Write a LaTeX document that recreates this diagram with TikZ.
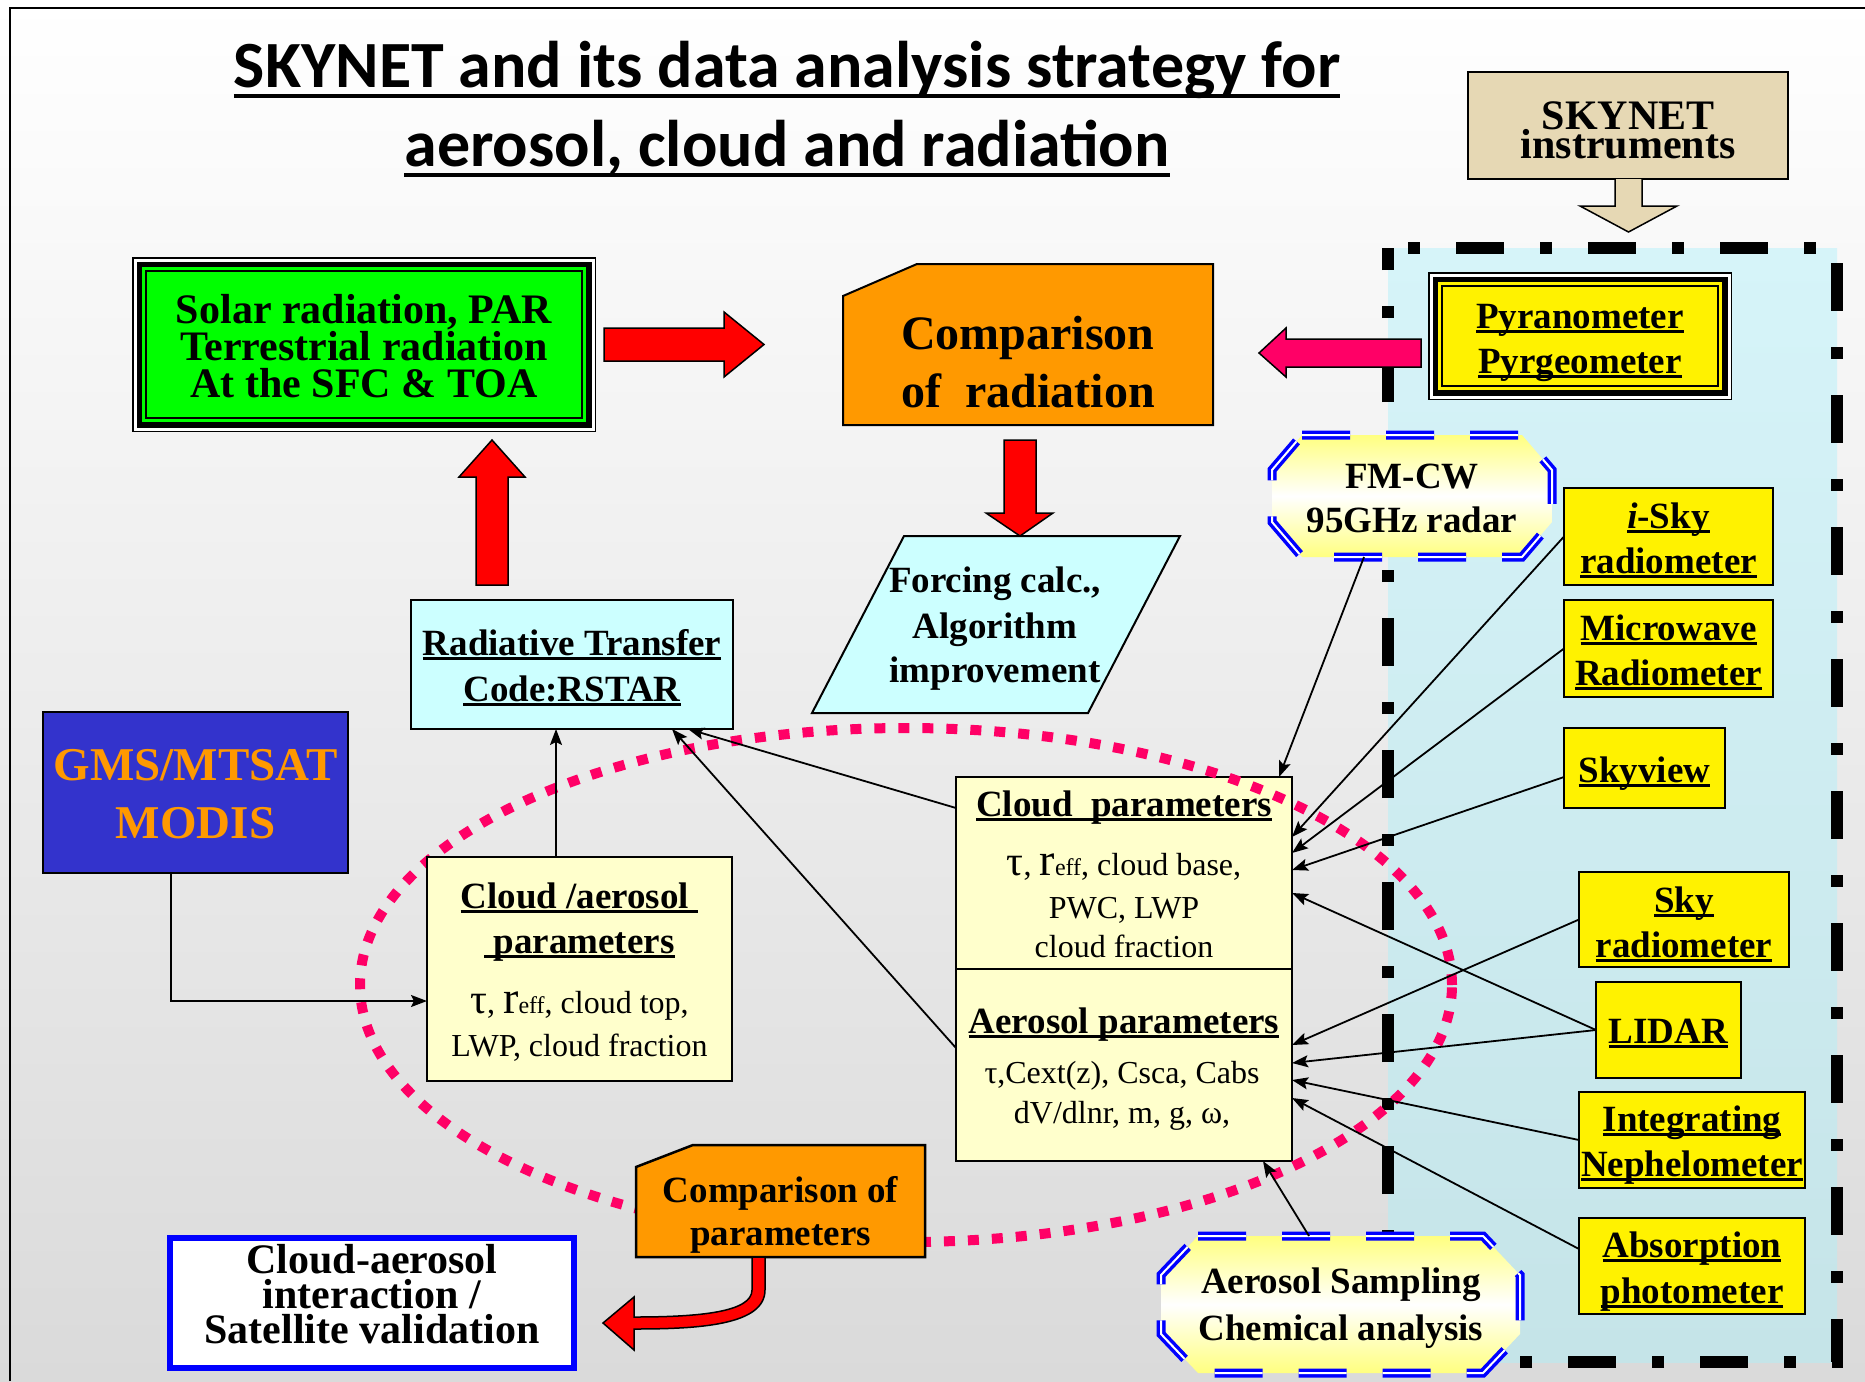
\documentclass[tikz,border=0pt]{standalone}
\usepackage{fontspec}
\setmainfont{Liberation Serif}
\newfontfamily\titlefont{Carlito}
\usetikzlibrary{calc,arrows.meta}
\definecolor{bggray}{RGB}{218,218,218}
\definecolor{skytan}{RGB}{230,216,180}
\definecolor{cyanA}{RGB}{214,244,249}
\definecolor{cyanB}{RGB}{197,228,232}
\definecolor{boxcyan}{RGB}{204,255,255}
\definecolor{lightyel}{RGB}{255,255,204}
\definecolor{orng}{RGB}{255,153,0}
\definecolor{pinkred}{RGB}{255,0,102}
\definecolor{gmsblue}{RGB}{51,51,204}
\definecolor{pureblue}{RGB}{0,0,255}
\definecolor{brightgreen}{RGB}{0,255,0}
\newsavebox\ulbox
\newcommand\ulx[1]{\sbox\ulbox{#1}\rlap{\rule[-0.13em]{\wd\ulbox}{0.065em}}\usebox\ulbox}
\newcommand\ult[1]{\sbox\ulbox{#1}\rlap{\rule[-0.16em]{\wd\ulbox}{0.05em}}\usebox\ulbox}
\newcommand\fs[1]{\fontsize{#1}{#1}\selectfont}
\newcommand\tripleframe[2]{%
 \fill[black] (#1.south west) rectangle (#1.north east);
 \fill[white] ($(#1.south west)+(1.5,-1.5)$) rectangle ($(#1.north east)+(-1.5,1.5)$);
 \fill[black] ($(#1.south west)+(4.5,-4.5)$) rectangle ($(#1.north east)+(-4.5,4.5)$);
 \fill[#2] ($(#1.south west)+(10,-10)$) rectangle ($(#1.north east)+(-10,10)$);
 \fill[black] ($(#1.south west)+(13,-13)$) rectangle ($(#1.north east)+(-13,13)$);
 \fill[#2] ($(#1.south west)+(15,-15)$) rectangle ($(#1.north east)+(-15,15)$);}
\newcommand\octa[3]{%
 \draw[top color=yellow!50,bottom color=yellow!50,middle color=white,draw=pureblue,double=white,double distance=2pt,line width=3.5pt,dash pattern=on 48pt off 36pt]
 ($(#1.north west)+(#2,0)$) -- ($(#1.north east)+(-#2,0)$) -- ($(#1.north east)+(0,#3)$) -- ($(#1.south east)+(0,-#3)$) -- ($(#1.south east)+(-#2,0)$) -- ($(#1.south west)+(#2,0)$) -- ($(#1.south west)+(0,-#3)$) -- ($(#1.north west)+(0,#3)$) -- cycle;}
\begin{document}
\begin{tikzpicture}[x=1pt,y=-1pt,
  lbl/.style={anchor=base,inner sep=0pt,outer sep=0pt},
  b37/.style={lbl,font=\bfseries\fs{37}},
  b42/.style={lbl,font=\bfseries\fs{42}},
  r32/.style={lbl,font=\fs{32}},
  bx/.style={rectangle,inner sep=0pt,outer sep=0pt},
  ibox/.style={bx,fill=yellow,draw=black,line width=2.5pt},
  pbox/.style={bx,fill=lightyel,draw=black,line width=2.5pt},
  conn/.style={line width=1.8pt,-{Stealth[length=16pt,width=12pt,inset=3pt]}},
  blockarrow/.style={draw=black,line width=1.5pt,line join=miter}]
\useasboundingbox (0,0) rectangle (1865,1381);
\shade[top color=white,bottom color=bggray] (0,0) rectangle (1865,1381);
\draw[line width=2pt] (10,1381) -- (10,8) -- (1865,8);
% title
\node[lbl,font=\titlefont\bfseries\fs{66}] (title1) at (787,87) {\ult{SKYNET and its data analysis strategy for}};
\node[lbl,font=\titlefont\bfseries\fs{66}] (title2) at (787,166) {\ult{aerosol, cloud and radiation}};
% instrument region
\node[bx,minimum width=449,minimum height=1114] (instr) at (1612.5,805) {};
\shade[top color=cyanA,bottom color=cyanB] (instr.north west) rectangle (instr.south east);
\draw[line width=12pt,dash pattern=on 12pt off 36pt on 48pt off 36pt,dash phase=112pt] (instr.north west) -- (instr.north east) -- (instr.south east) -- (instr.south west) -- cycle;
% SKYNET instruments
\node[bx,fill=skytan,draw=black,line width=2pt,minimum width=320,minimum height=107] (skybox) at (1628,125.5) {};
\node[b42] (sky1) at (1628,129) {SKYNET};
\node[b42] (sky2) at (1628,158) {instruments};
\draw[blockarrow,fill=skytan] (1615,179) -- (1615,206) -- (1580,206) -- (1628.5,232) -- (1677,206) -- (1642,206) -- (1642,179);
% green box
\node[bx,minimum width=464,minimum height=175] (green) at (364,344.5) {};
\tripleframe{green}{brightgreen}
\node[b42] (g1) at (364,323) {Solar radiation, PAR};
\node[b42] (g2) at (364,360) {Terrestrial radiation};
\node[b42] (g3) at (364,397) {At the SFC \& TOA};
% pyranometer
\node[bx,minimum width=304,minimum height=128] (pyr) at (1580,336) {};
\tripleframe{pyr}{yellow}
\node[b37] (p1) at (1580,328) {\ulx{Pyranometer}};
\node[b37] (p2) at (1580,373) {\ulx{Pyrgeometer}};
% comparison of radiation
\node[bx,minimum width=370,minimum height=161] (comp) at (1028,344.5) {};
\draw[fill=orng,line width=2pt] (comp.south west) -- ([yshift=-32pt]comp.north west) -- ([xshift=74pt]comp.north west) -- (comp.north east) -- (comp.south east) -- cycle;
\node[lbl,font=\bfseries\fs{48}] (c1) at (1028,349) {Comparison};
\node[lbl,font=\bfseries\fs{48}] (c2) at (1028,407) {of\ \ radiation};
% forcing
\node[bx,minimum width=368,minimum height=177] (forcing) at (996,624.5) {};
\draw[fill=boxcyan,line width=2pt] ([xshift=92pt]forcing.north west) -- (forcing.north east) -- ([xshift=-92pt]forcing.south east) -- (forcing.south west) -- cycle;
\node[b37] (f1) at (995,592) {Forcing calc.,};
\node[b37] (f2) at (995,638) {Algorithm};
\node[b37] (f3) at (995,682) {improvement};
% radiative transfer
\node[bx,fill=boxcyan,draw=black,line width=2pt,minimum width=322,minimum height=129] (radiative) at (572,664.5) {};
\node[b37] (r1) at (572,655) {\ulx{Radiative Transfer}};
\node[b37] (r2) at (572,701) {\ulx{Code:RSTAR}};
% GMS
\node[bx,fill=gmsblue,draw=black,line width=2.5pt,minimum width=305,minimum height=161] (gms) at (195.5,792.5) {};
\node[lbl,font=\bfseries\fs{47},text=orng] (gm1) at (195.5,780) {GMS/MTSAT};
\node[lbl,font=\bfseries\fs{47},text=orng] (gm2) at (195.5,838) {MODIS};
% cloud / aerosol parameter boxes
\node[pbox,minimum width=336,minimum height=192] (cloudp) at (1124,873) {};
\node[pbox,minimum width=336,minimum height=192] (aerop) at (1124,1065) {};
\node[b37] (cp1) at (1124,816) {\ulx{Cloud\ \ parameters}};
\node[r32] (cp2) at (1124,875) {{\fs{42}τ}, {\fs{46}r}{\fs{24}eff}, cloud base,};
\node[r32] (cp3) at (1124,918) {PWC, LWP};
\node[r32] (cp4) at (1124,957) {cloud fraction};
\node[b37] (ap1) at (1124,1033) {\ulx{Aerosol parameters}};
\node[r32] (ap2) at (1122,1083) {τ,Cext(z), Csca, Cabs};
\node[r32] (ap3) at (1122,1123) {dV/dlnr, m, g, ω,};
% instruments
\node[ibox,minimum width=209,minimum height=97] (isky) at (1668.5,536.5) {};
\node[b37] (is1) at (1668.5,528) {\ulx{\textit{i}-Sky}};
\node[b37] (is2) at (1668.5,573) {\ulx{radiometer}};
\node[ibox,minimum width=209,minimum height=97] (micro) at (1668.5,648.5) {};
\node[b37] (mw1) at (1668.5,640) {\ulx{Microwave}};
\node[b37] (mw2) at (1668.5,685) {\ulx{Radiometer}};
\node[ibox,minimum width=161,minimum height=80] (skyview) at (1644.5,768) {};
\node[b37] (sv1) at (1644.5,782) {\ulx{Skyview}};
\node[ibox,minimum width=210,minimum height=95] (skyrad) at (1684,919.5) {};
\node[b37] (sr1) at (1684,912) {\ulx{Sky}};
\node[b37] (sr2) at (1684,957) {\ulx{radiometer}};
\node[ibox,minimum width=145,minimum height=96] (lidar) at (1668.5,1030) {};
\node[b37] (li1) at (1668.5,1043) {\ulx{LIDAR}};
\node[ibox,minimum width=226,minimum height=96] (neph) at (1692,1140) {};
\node[b37] (ne1) at (1692,1131) {\ulx{Integrating}};
\node[b37] (ne2) at (1692,1176) {\ulx{Nephelometer}};
\node[ibox,minimum width=226,minimum height=96] (absorb) at (1692,1266) {};
\node[b37] (ab1) at (1692,1257) {\ulx{Absorption}};
\node[b37] (ab2) at (1692,1303) {\ulx{photometer}};
% octagons
\node[bx,minimum width=280,minimum height=122] (fmcw) at (1412,496) {};
\octa{fmcw}{30}{35}
\node[b37] (fm1) at (1412,488) {FM-CW};
\node[b37] (fm2) at (1412,532) {95GHz radar};
\node[bx,minimum width=359,minimum height=137] (sampling) at (1340.5,1304.5) {};
\octa{sampling}{37}{39}
\node[b37] (sa1) at (1341,1293) {Aerosol Sampling};
\node[b37] (sa2) at (1341,1340) {Chemical analysis};
% block arrows
\draw[blockarrow,fill=red] (604,328) -- (724,328) -- (724,312) -- (764,344.5) -- (724,377) -- (724,361) -- (604,361) -- cycle;
\draw[blockarrow,fill=red] (476,585) -- (476,477) -- (459,477) -- (492,440) -- (525,477) -- (508,477) -- (508,585) -- cycle;
\draw[blockarrow,fill=red] (1004,440) -- (1004,513) -- (986,513) -- (1020,536) -- (1053,513) -- (1036,513) -- (1036,440) -- cycle;
\draw[blockarrow,fill=pinkred] (1421,339) -- (1286,339) -- (1286,328) -- (1259,353) -- (1286,377) -- (1286,367) -- (1421,367) -- cycle;
% dotted ellipse
\draw[pinkred,line width=10pt,dash pattern=on 11pt off 13pt] (906,985) ellipse [x radius=546pt,y radius=257pt];
% cloud/aerosol parameters
\node[pbox,minimum width=305,minimum height=224] (cloudaer) at (579.5,969) {};
\node[b37] (ca1) at (579.5,908) {\ulx{Cloud /aerosol\ }};
\node[b37] (ca2) at (579.5,953) {\ulx{\ parameters}};
\node[r32] (ca3) at (579.5,1013) {{\fs{42}τ}, {\fs{46}r}{\fs{24}eff}, cloud top,};
\node[r32] (ca4) at (579.5,1056) {LWP, cloud fraction};
% comparison of parameters
\node[bx,minimum width=289,minimum height=112] (cparam) at (780.5,1201) {};
\draw[fill=orng,line width=2.5pt] (cparam.south west) -- ([yshift=-22pt]cparam.north west) -- ([xshift=57pt]cparam.north west) -- (cparam.north east) -- (cparam.south east) -- cycle;
\node[b37] (cm1) at (780.5,1202) {Comparison of};
\node[b37] (cm2) at (780.5,1245) {parameters};
% cloud-aerosol interaction
\node[bx,fill=white,draw=pureblue,line width=6pt,minimum width=404,minimum height=130] (cai) at (372,1303) {};
\node[b42] (ci1) at (372,1273) {Cloud-aerosol};
\node[b42] (ci2) at (372,1308) {interaction /};
\node[b42] (ci3) at (372,1343) {Satellite validation};
\draw[blockarrow,fill=red] (765,1257) -- (765,1290) .. controls (765,1325) and (700,1329) .. (634,1329) -- (634,1350) -- (603,1323) -- (634,1297) -- (634,1317) .. controls (700,1317) and (752,1312) .. (752,1290) -- (752,1257) -- cycle;
% connectors
\draw[conn] ([xshift=-24.5pt]gms.south) |- ([yshift=-32pt]cloudaer.west);
\draw[conn] ([xshift=-23.5pt]cloudaer.north) -- ([xshift=-16pt]radiative.south);
\draw[conn] ([yshift=-31pt]cloudp.north west) -- ([xshift=-45pt]radiative.south east);
\draw[conn] ([yshift=-79pt]aerop.north west) -- ([xshift=-61pt]radiative.south east);
\draw[conn] ([xshift=-48pt]fmcw.south) -- ([xshift=-13pt]cloudp.north east);
\draw[conn] (isky.west) -- ([yshift=-60pt]cloudp.north east);
\draw[conn] (micro.west) -- ([yshift=-76pt]cloudp.north east);
\draw[conn] ([yshift=-9pt]skyview.west) -- ([yshift=-93pt]cloudp.north east);
\draw[conn] (lidar.west) -- ([yshift=-116pt]cloudp.north east);
\draw[conn] (skyrad.west) -- ([yshift=-76pt]aerop.north east);
\draw[conn] (lidar.west) -- ([yshift=-94pt]aerop.north east);
\draw[conn] (neph.west) -- ([yshift=-111pt]aerop.north east);
\draw[conn] ([yshift=17pt]absorb.west) -- ([yshift=-129pt]aerop.north east);
\draw[conn] ([xshift=-31.5pt]sampling.north) -- ([xshift=-29pt]aerop.south east);
\end{tikzpicture}
\end{document}
